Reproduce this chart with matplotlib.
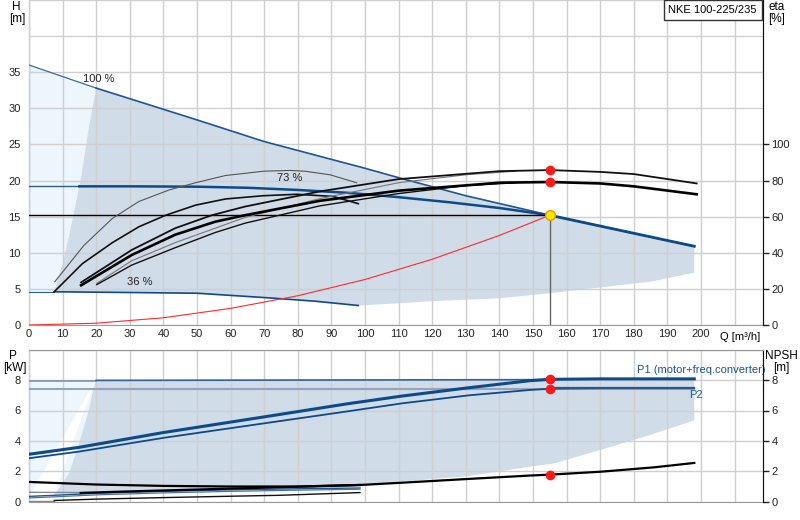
import numpy as np
import matplotlib
matplotlib.use("Agg")
import matplotlib.pyplot as plt

plt.rcParams['font.family'] = ['Liberation Sans', 'DejaVu Sans']
plt.rcParams['font.size'] = 8

### curve data (Q in m3/h)
# head curves [m]
q_100 = [0, 20, 50, 70, 100, 110, 130, 155, 175, 198]
h_100 = [36.0, 32.8, 28.4, 25.4, 21.7, 20.4, 17.9, 15.2, 13.2, 10.9]
q_73 = [0, 15, 30, 50, 65, 80, 95, 110, 125, 140, 155]
h_73 = [19.2, 19.2, 19.2, 19.15, 19.0, 18.7, 18.3, 17.7, 17.0, 16.2, 15.2]
q_36 = [0, 7.5, 30, 50, 70, 85, 98]
h_36 = [4.6, 4.6, 4.5, 4.4, 3.8, 3.3, 2.7]
q_sys = [0, 20, 40, 60, 80, 100, 120, 140, 155]
h_sys = [0, 0.25, 1.0, 2.3, 4.05, 6.3, 9.1, 12.4, 15.2]

# operating range (shaded) edges
q_left = [7.5, 10, 12.5, 15.5, 18, 20]
h_left = [4.6, 8.5, 13.6, 20.5, 27.9, 32.8]
q_low = [198, 185, 170, 155, 140, 120, 110, 98]
h_low = [7.25, 6.0, 5.2, 4.4, 3.7, 3.3, 3.0, 2.7]

# efficiency curves [%]
q_eta_a = [7.7, 16.3, 24.8, 32.7, 41.7, 49.6, 58.5, 70, 77.7, 82, 89.6, 97.5]
eta_a = [24, 44, 59, 68.4, 74.8, 78.8, 82.8, 85.2, 85.6, 85.2, 83.2, 78.8]
q_eta_b = [7.5, 15.9, 24.8, 32.7, 40.7, 49.6, 58.5, 69.7, 79.7, 90.5, 98]
eta_b = [18.4, 34, 45.6, 54.4, 60.8, 66.4, 69.8, 71.6, 72.4, 71.2, 67.2]
q_eta_p = [15.5, 30.6, 43.5, 54.4, 64.3, 86.6, 110, 140, 155, 170, 180, 198.7]
eta_p = [23.6, 41.6, 53.6, 60.8, 65.6, 74, 80.8, 85.2, 85.8, 84.8, 83.6, 78.4]
q_eta_t = [15.5, 30.6, 43.5, 55.4, 64.3, 86.6, 110, 140, 155, 170, 180, 198.7]
eta_t = [22, 38.8, 50, 57.2, 60.8, 68.8, 74.4, 78.8, 79.2, 78.4, 76.8, 72.4]
q_eta_c = [20.2, 30.6, 43.5, 55.4, 64.3, 86.6, 110, 130, 145]
eta_c = [23.1, 35.6, 45.6, 53.6, 59.6, 70, 78.8, 83.2, 85.2]
q_eta_d = [20.2, 30.6, 43.5, 55.4, 64.3, 86.6, 110, 130, 145]
eta_d = [22.4, 33.2, 42.8, 51.2, 56.4, 66, 72.8, 77.2, 78.8]

# power curves [kW]
q_p1 = [0, 15, 40, 72, 95, 111, 131, 149, 155, 170, 198]
p1 = [3.12, 3.58, 4.55, 5.65, 6.45, 6.95, 7.5, 7.96, 8.05, 8.08, 8.08]
q_p2 = [0, 15, 40, 72, 95, 111, 131, 149, 155, 170, 198]
p2 = [2.86, 3.3, 4.2, 5.22, 5.95, 6.47, 7.0, 7.35, 7.43, 7.45, 7.45]
q_pmin1 = [0, 7.5, 20, 40, 60, 80, 98.5]
pmin1 = [0.35, 0.42, 0.55, 0.68, 0.78, 0.85, 0.9]
q_pmin2 = [0, 7.5, 20, 40, 60, 80, 98.5]
pmin2 = [0.25, 0.32, 0.45, 0.58, 0.68, 0.76, 0.82]
q_pblk = [7.5, 20, 40, 60, 74.4, 98.5]
pblk = [0.08, 0.17, 0.27, 0.36, 0.42, 0.6]
q_pleft = [7.5, 9, 11.9, 14.9, 17.5, 19.8]
p_left = [0.45, 0.9, 1.87, 3.84, 5.8, 8.0]
q_plow = [198, 185, 170, 156, 149, 131, 111, 98.5, 80, 60, 40, 20, 7.5]
p_low = [5.35, 4.4, 3.4, 2.5, 2.3, 1.69, 1.32, 0.99, 0.85, 0.78, 0.68, 0.55, 0.45]

# NPSH [m]
q_npsh = [0, 20, 40, 60, 80, 98.5, 111, 131, 149, 155, 170, 186, 198]
npsh = [1.3, 1.13, 1.04, 1.0, 1.0, 1.1, 1.25, 1.5, 1.72, 1.78, 1.97, 2.26, 2.55]
q_npsh2 = [15.4, 30, 50, 74.4, 98.5]
npsh2 = [0.58, 0.68, 0.8, 0.95, 1.1]

q_duty, h_duty = 155, 15.2
eta_duty = [85.8, 79.2]
p_duty = [8.05, 7.43]
npsh_duty = 1.78

dark_fill = '#d0dce8'
light_fill = '#eef6fd'
blue = '#0d4a8a'
grid_c = '#cfcfcf'

fig = plt.figure(figsize=(8, 5.2), dpi=100)
ax1 = fig.add_axes([29/800, 1-325/520, 734/800, 325/520])
ax2 = fig.add_axes([29/800, 1-501.7/520, 734/800, 152/520])

xmax = 734/3.36
for ax in (ax1, ax2):
    ax.set_xlim(0, xmax)
    ax.set_xticks(np.arange(0, 211, 10))
    ax.grid(True, color=grid_c, lw=1)
    ax.set_axisbelow(False)
    ax.tick_params(axis='both', length=0, colors='#222222', labelsize=8)
    for s in ('left', 'right'):
        ax.spines[s].set_color('#333333')
    for s in ('top', 'bottom'):
        ax.spines[s].set_color('#999999')

# ---------- top panel: H ----------
ax1.set_ylim(0, 45)
ax1.set_yticks(np.arange(0, 46, 5))
ax1.set_yticklabels([str(v) if v <= 35 else '' for v in range(0, 46, 5)])
ax1.set_xticklabels([str(v) for v in range(0, 201, 10)] + [''])
ax1.tick_params(axis='x', pad=3)
ax1.tick_params(axis='y', pad=6)
ax1.spines['top'].set_visible(False)

# light region left of operating area
ax1.fill(list(q_100[:2]) + q_left[::-1] + [0], [h_100[0], h_100[1]] + h_left[::-1] + [4.6],
         color=light_fill, lw=0, zorder=1)
# dark operating area
top_q = [q for q in q_100 if q >= 20]
top_h = [h for q, h in zip(q_100, h_100) if q >= 20]
rev36_q = [q for q in q_36[::-1] if q >= 7.5]
rev36_h = [h for q, h in zip(q_36[::-1], h_36[::-1]) if q >= 7.5]
ax1.fill(top_q + q_low + rev36_q + q_left,
         top_h + h_low + rev36_h + h_left, color=dark_fill, lw=0, zorder=1)

# speed curves
ax1.plot(q_100[:2], h_100[:2], color='#3a6aa0', lw=0.9, zorder=3)
ax1.plot(q_100[1:], h_100[1:], color='#1f5590', lw=1.2, zorder=3)
ax1.plot(q_100[7:], h_100[7:], color=blue, lw=2.0, zorder=3)
ax1.plot(q_73[:2], h_73[:2], color='#2a5c96', lw=1.0, zorder=3)
ax1.plot(q_73[1:], h_73[1:], color=blue, lw=1.8, zorder=3)
ax1.plot(q_36[:2], h_36[:2], color='#2a5c96', lw=0.8, zorder=3)
ax1.plot(q_36[1:], h_36[1:], color=blue, lw=1.2, zorder=3)
ax1.plot(q_sys, h_sys, color='#ff2a2a', lw=0.8, zorder=3)
ax1.plot([0, q_duty], [h_duty, h_duty], color='black', lw=1.0, zorder=3)
ax1.plot([q_duty, q_duty], [0, h_duty], color='#666666', lw=1.0, zorder=3)

ax1.text(16, 34.0, '100 %', fontsize=8, va='center', color='#222222', zorder=5)
ax1.text(73.7, 20.4, '73 %', fontsize=8, va='center', color='#222222', zorder=5)
ax1.text(29.3, 5.9, '36 %', fontsize=8, va='center', color='#222222', zorder=5)

# efficiency on right axis
ax1e = ax1.twinx()
ax1e.set_ylim(0, 180)
ax1e.set_yticks(np.arange(0, 101, 20))
ax1e.tick_params(axis='y', length=4, width=1, colors='#222222', labelsize=8, pad=2)
ax1e.spines['right'].set_color('#111111')
ax1e.spines['top'].set_visible(False)
ax1e.spines['left'].set_visible(False)
ax1e.spines['bottom'].set_visible(False)
ax1e.plot(q_eta_a, eta_a, color='#555555', lw=0.8)
ax1e.plot(q_eta_b, eta_b, color='#111111', lw=1.2)
ax1e.plot(q_eta_c, eta_c, color='#777777', lw=0.8)
ax1e.plot(q_eta_d, eta_d, color='#111111', lw=1.0)
ax1e.plot(q_eta_p, eta_p, color='#111111', lw=1.3)
ax1e.plot(q_eta_t, eta_t, color='black', lw=1.9)
ax1e.plot([q_duty, q_duty], eta_duty, 'o', color='#ff1a1a', ms=6, mec='#ff1a1a', zorder=6)
ax1.plot([q_duty], [h_duty], 'o', color='#ffe600', ms=7, mec='#e89a00', mew=1, zorder=7)

fig.text(16/800, 1-7/520, 'H', ha='center', va='center', fontsize=8.5)
fig.text(17/800, 1-19/520, '[m]', ha='center', va='center', fontsize=8.5)
fig.text(777/800, 1-7/520, 'eta', ha='center', va='center', fontsize=8.5)
fig.text(777/800, 1-19/520, '[%]', ha='center', va='center', fontsize=8.5)
ax1.annotate('Q [m³/h]', xy=(211.6, 0), xycoords='data', xytext=(0, -9),
             textcoords='offset points', ha='center', va='center', fontsize=8)
ax1.text((757-29)/734, 1-5/325, 'NKE 100-225/235', transform=ax1.transAxes, ha='right', va='top',
         fontsize=8, zorder=8,
         bbox=dict(boxstyle='square,pad=0.45', fc='white', ec='#333333', lw=1))

# ---------- bottom panel: P ----------
ax2.set_ylim(0, 10)
ax2.set_yticks(np.arange(0, 11, 2))
ax2.set_yticklabels(['0', '2', '4', '6', '8', ''])
ax2.set_xticklabels([])
ax2.tick_params(axis='y', pad=6)

ax2.fill([0] + q_pleft[::-1] + [19.8, 0], [0.3] + p_left[::-1] + [8.0, 8.0],
         color=light_fill, lw=0, zorder=1)
ax2.fill([19.8, 198] + q_plow + q_pleft, [8.0, 8.08] + p_low + p_left,
         color=dark_fill, lw=0, zorder=1)

ax2.plot([0, 20], [7.96, 7.96], color='#7f93ae', lw=1.2, zorder=3)
ax2.plot([20, 155], [7.98, 8.03], color='#30639a', lw=1.2, zorder=3)
ax2.plot([0, 155], [7.43, 7.43], color='#96a4ba', lw=1.5, zorder=3)
ax2.plot(q_p1, p1, color=blue, lw=2.2, zorder=4)
ax2.plot(q_p2, p2, color=blue, lw=1.3, zorder=4)
ax2.plot([155, 198], [7.45, 7.45], color='#2d5788', lw=1.6, zorder=4)
ax2.plot(q_pmin1, pmin1, color='#1f5590', lw=1.0, zorder=3)
ax2.plot(q_pmin2, pmin2, color='#4a74a8', lw=0.9, zorder=3)
ax2.plot([0, 7.5], [0.05, 0.05], color='#888888', lw=1.0, zorder=3)
ax2.plot(q_pblk, pblk, color='#111111', lw=1.0, zorder=3)
ax2.plot([0, 15.4], [0.62, 0.6], color='#888888', lw=1.0, zorder=3)
ax2.text(181, 8.66, 'P1 (motor+freq.converter)', color='#1a5596', fontsize=8, va='center', zorder=5)
ax2.text(196.5, 7.0, 'P2', color='#1a5596', fontsize=8, va='center', zorder=5)
ax2.plot([q_duty, q_duty], p_duty, 'o', color='#ff1a1a', ms=6, mec='#ff1a1a', zorder=6)

ax2n = ax2.twinx()
ax2n.set_ylim(0, 10)
ax2n.set_yticks(np.arange(0, 9, 2))
ax2n.tick_params(axis='y', length=4, width=1, colors='#222222', labelsize=8, pad=2)
ax2n.spines['right'].set_color('#111111')
ax2n.spines['top'].set_color('#999999')
ax2n.spines['left'].set_visible(False)
ax2n.spines['bottom'].set_visible(False)
ax2n.plot(q_npsh, npsh, color='black', lw=1.6)
ax2n.plot(q_npsh2, npsh2, color='black', lw=1.6)
ax2n.plot([q_duty], [npsh_duty], 'o', color='#ff1a1a', ms=6, mec='#ff1a1a', zorder=6)

fig.text(13/800, 1-356/520, 'P', ha='center', va='center', fontsize=8.5)
fig.text(15/800, 1-368/520, '[kW]', ha='center', va='center', fontsize=8.5)
fig.text(781/800, 1-356/520, 'NPSH', ha='center', va='center', fontsize=8.5)
fig.text(781/800, 1-368/520, '[m]', ha='center', va='center', fontsize=8.5)

fig.savefig('out.png', dpi=100)
